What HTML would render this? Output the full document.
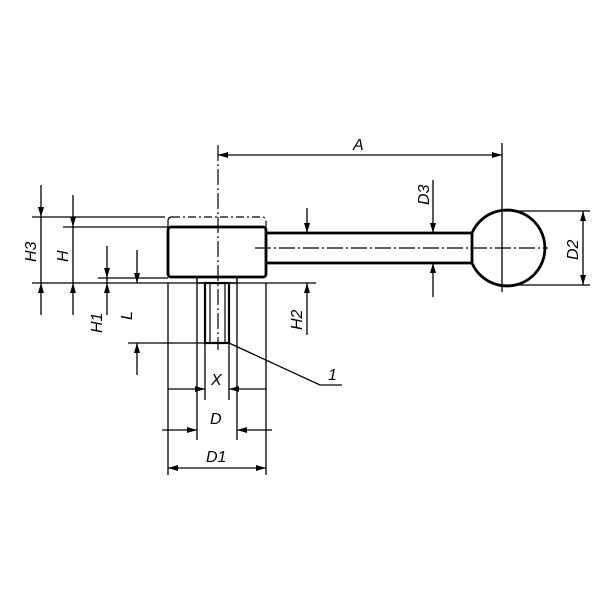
<!DOCTYPE html>
<html><head><style>body{margin:0;background:#fff}svg{display:block}text{font-family:"Liberation Sans",sans-serif;font-style:italic;font-size:16px;fill:#000}</style></head><body>
<svg width="600" height="600" viewBox="0 0 600 600">
<defs><marker id="a" viewBox="0 0 10 6" refX="10" refY="3" markerWidth="14" markerHeight="6" orient="auto-start-reverse" markerUnits="userSpaceOnUse"><path d="M0,0L10,3L0,6z" fill="#000"/></marker></defs>
<g stroke="#000" fill="none">
<rect x="168" y="227" width="98" height="50" rx="3" stroke-width="2.8"/>
<path d="M172,217H262Q266,217 266,222V227" stroke-width="1.2" stroke-dasharray="8,3,2,3"/>
<path d="M168,227V221Q168,217 172,217" stroke-width="1.2"/>
<path d="M266,233H472M266,263H472" stroke-width="2.8"/>
<path d="M472,233A38,38 0 1 1 472,263Z" stroke-width="2.8" fill="#fff"/>
<path d="M197,278V283H237V278" stroke-width="1.5"/>
<rect x="205" y="283" width="24" height="60" stroke-width="2.2"/>
<path d="M210,283V343M225,283V343" stroke-width="1.2"/>
<path d="M218,145V350" stroke-width="1.2" stroke-dasharray="16,3,2,3"/>
<path d="M255,248H548" stroke-width="1.2" stroke-dasharray="16,3,2,3"/>
<path d="M502,143V292" stroke-width="1.3"/>
<g stroke-width="1.3">
<path d="M32,217H165M63,227H168M32,283H316M98,278H168M128,343H228"/>
<path d="M168,283V475M266,283V475M197,283V440M237,283V440M205,343V400M229,343V400"/>
<path d="M502,211H590M502,285H590"/>
<path d="M229,343L320,385H342"/>
</g>
<g stroke-width="1.3" marker-end="url(#a)">
<path d="M41,185V217"/><path d="M41,315V283"/>
<path d="M73,195V227"/><path d="M73,315V283"/>
<path d="M107,246V278"/><path d="M107,315V283"/>
<path d="M137,250V283"/><path d="M137,375V343"/>
<path d="M307,208V233"/><path d="M307,335V283"/>
<path d="M433,180V233"/><path d="M433,297V263"/>
<path d="M218,155H502" marker-start="url(#a)"/>
<path d="M583,211V285" marker-start="url(#a)"/>
<path d="M168,389H205"/><path d="M266,389H229"/>
<path d="M162,430H197"/><path d="M272,430H237"/>
<path d="M168,468H266" marker-start="url(#a)"/>
</g>
<path d="M41,217V283M73,227V283M107,278V283" stroke-width="1.3"/>
</g>
<text x="353" y="150">A</text>
<text x="211" y="385">X</text>
<text x="210" y="424">D</text>
<text x="206" y="462">D1</text>
<text x="328" y="380">1</text>
<text transform="translate(36,262) rotate(-90)">H3</text>
<text transform="translate(68,262) rotate(-90)">H</text>
<text transform="translate(102,333) rotate(-90)">H1</text>
<text transform="translate(132,320) rotate(-90)">L</text>
<text transform="translate(302,330) rotate(-90)">H2</text>
<text transform="translate(429,205) rotate(-90)">D3</text>
<text transform="translate(578,260) rotate(-90)">D2</text>
</svg>
</body></html>
